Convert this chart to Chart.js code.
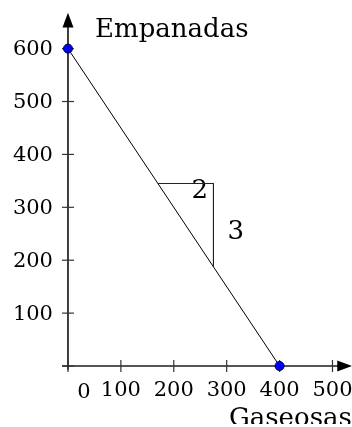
<!DOCTYPE html>
<html>
<head>
<meta charset="utf-8">
<script src="https://cdn.jsdelivr.net/npm/chart.js@4"></script>
<style>
  html, body { margin: 0; padding: 0; background: #fff; }
  #wrap { width: 352px; height: 427px; }
</style>
</head>
<body>
<div id="wrap"><canvas id="budget" width="352" height="427"></canvas></div>
<script>
/* Budget line: Gaseosas vs Empanadas */

var FONT = "'DejaVu Serif', serif";

// tick values on each axis
var xTicks = [0, 100, 200, 300, 400, 500];
var yTicks = [100, 200, 300, 400, 500, 600];

// budget line end points
var budgetX = [0, 400];
var budgetY = [600, 0];

// slope triangle (run 2, rise 3)
var slopeX = [170, 275, 275];
var slopeY = [345, 345, 187.5];
var slopeLabels = ['2', '3'];
var slopeLabelX = [249, 317];
var slopeLabelY = [330, 253];

// axis names
var xTitle = 'Gaseosas';
var yTitle = 'Empanadas';

function pts(xs, ys) {
  return xs.map(function(x, i) { return { x: x, y: ys[i] }; });
}

// axes, arrows, ticks and text drawn on top of the scales
var axesPlugin = {
  id: 'axes',
  beforeDatasetsDraw: function(chart) {
    var ctx = chart.ctx, sx = chart.scales.x, sy = chart.scales.y;
    var x0 = sx.getPixelForValue(0), y0 = sy.getPixelForValue(0);
    ctx.save();

    // x axis
    ctx.strokeStyle = '#555';
    ctx.lineWidth = 1.8;
    ctx.beginPath();
    ctx.moveTo(sx.getPixelForValue(-11), y0);
    ctx.lineTo(sx.getPixelForValue(512), y0);
    ctx.stroke();
    var xa = sx.getPixelForValue(509), xt = sx.getPixelForValue(537);
    ctx.fillStyle = '#000';
    ctx.beginPath();
    ctx.moveTo(xt, y0);
    ctx.lineTo(xa, y0 - 5.5);
    ctx.lineTo(xa, y0 + 5.5);
    ctx.closePath();
    ctx.fill();

    // y axis
    ctx.strokeStyle = '#000';
    ctx.lineWidth = 1.5;
    ctx.beginPath();
    ctx.moveTo(x0, sy.getPixelForValue(-7));
    ctx.lineTo(x0, sy.getPixelForValue(645));
    ctx.stroke();
    var ya = sy.getPixelForValue(640), yt = sy.getPixelForValue(668);
    ctx.beginPath();
    ctx.moveTo(x0, yt);
    ctx.lineTo(x0 - 5.5, ya);
    ctx.lineTo(x0 + 5.5, ya);
    ctx.closePath();
    ctx.fill();

    // tick marks
    ctx.lineWidth = 1.2;
    ctx.strokeStyle = '#333';
    xTicks.forEach(function(v) {
      var px = sx.getPixelForValue(v);
      ctx.beginPath();
      ctx.moveTo(px, y0 - 6);
      ctx.lineTo(px, y0 + 6);
      ctx.stroke();
    });
    yTicks.concat([0]).forEach(function(v) {
      var py = sy.getPixelForValue(v);
      ctx.beginPath();
      ctx.moveTo(x0 - 6, py);
      ctx.lineTo(x0 + 6, py);
      ctx.stroke();
    });

    // tick labels
    ctx.fillStyle = '#000';
    ctx.font = '21px ' + FONT;
    ctx.textBaseline = 'middle';
    ctx.textAlign = 'right';
    yTicks.forEach(function(v) {
      ctx.fillText(String(v), x0 - 15, sy.getPixelForValue(v) + 1);
    });
    ctx.textAlign = 'center';
    xTicks.forEach(function(v) {
      var px = sx.getPixelForValue(v), py = y0 + 25;
      if (v === 0) { px += 16; py += 2; }
      ctx.fillText(String(v), px, py);
    });

    // axis titles (the x title runs off the bottom edge)
    ctx.font = '26px ' + FONT;
    ctx.textBaseline = 'alphabetic';
    ctx.textAlign = 'left';
    ctx.fillText(yTitle, 95, 37);
    ctx.save();
    ctx.beginPath();
    ctx.rect(0, 0, chart.width, 424);
    ctx.clip();
    ctx.fillText(xTitle, 229, 426);
    ctx.restore();

    // slope labels
    ctx.textAlign = 'center';
    ctx.textBaseline = 'middle';
    slopeLabels.forEach(function(t, i) {
      ctx.fillText(t, sx.getPixelForValue(slopeLabelX[i]), sy.getPixelForValue(slopeLabelY[i]));
    });
    ctx.restore();
  }
};

new Chart(document.getElementById('budget'), {
  type: 'scatter',
  data: {
    datasets: [
      {
        data: pts(slopeX, slopeY),
        showLine: true,
        borderColor: '#222',
        borderWidth: 1,
        pointRadius: 0,
        clip: false
      },
      {
        data: pts(budgetX, budgetY),
        showLine: true,
        borderColor: '#000',
        borderWidth: 1,
        pointRadius: 4.5,
        pointBackgroundColor: '#0000ff',
        pointBorderColor: '#000033',
        pointBorderWidth: 1,
        clip: false
      }
    ]
  },
  options: {
    responsive: false,
    animation: false,
    layout: { padding: 0, autoPadding: false },
    plugins: { legend: { display: false }, tooltip: { enabled: false } },
    scales: {
      x: { type: 'linear', display: false, min: -128.5, max: 536.9 },
      y: { type: 'linear', display: false, min: -115.3, max: 691.9 }
    }
  },
  plugins: [axesPlugin]
});
</script>
</body>
</html>
